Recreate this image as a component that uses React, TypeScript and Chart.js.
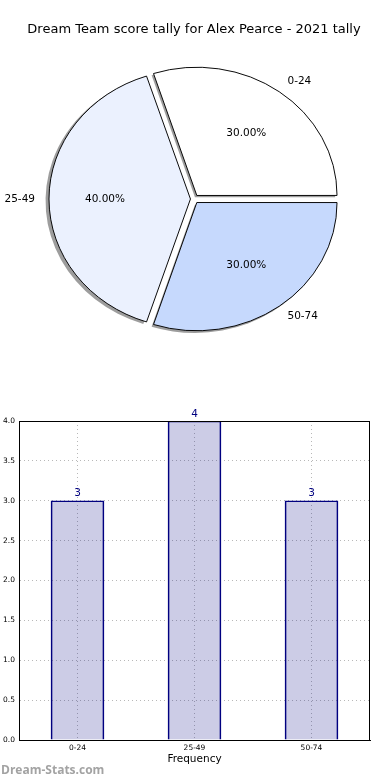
import React, { useEffect, useRef } from "react";
import { Chart, registerables } from "chart.js";

Chart.register(...registerables);

const FONT = '"DejaVu Sans", sans-serif';

const TITLE = "Dream Team score tally for Alex Pearce - 2021 tally";
const CATEGORIES = ["0-24", "25-49", "50-74"];
const COUNTS = [3, 4, 3];
const PIE_COLORS = ["#ffffff", "#ebf1fe", "#c6d9fd"];
const Y_MIN = 0;
const Y_MAX = 4;
const Y_STEP = 0.5;
const X_AXIS_TITLE = "Frequency";
const WATERMARK = "Dream-Stats.com";

const TOTAL = COUNTS.reduce((a, b) => a + b, 0);
const PIE_RADIUS = 140;
const SY = 128 / 140;
const EXPLODE_PX = 5;
const SHADOW_DX = -2;
const SHADOW_DY = 2;

function arcGeom(arc: any) {
  const p = arc.getProps(["x", "y", "startAngle", "endAngle", "outerRadius"], true);
  const circ = p.endAngle - p.startAngle;
  const off = (arc.options.offset || 0) / 4;
  const fix = 1 - Math.sin(Math.min(Math.PI, circ));
  const t = off * (1 + fix);
  const mid = (p.startAngle + p.endAngle) / 2;
  return {
    cx: p.x,
    cy: p.y,
    x: p.x + Math.cos(mid) * t,
    y: p.y + Math.sin(mid) * t,
    r: p.outerRadius + off * fix,
    R: p.outerRadius,
    startAngle: p.startAngle,
    endAngle: p.endAngle,
    mid,
  };
}

const pieDecor = {
  id: "pieDecor",
  beforeDatasetsDraw(chart: any) {
    const ctx = chart.ctx;
    const meta = chart.getDatasetMeta(0);
    const a0 = meta.data[0];
    const cx = a0.x;
    const cy = a0.y;
    ctx.save();
    ctx.translate(cx, cy);
    ctx.scale(1, SY);
    ctx.translate(-cx, -cy);
    meta.data.forEach((arc: any) => {
      const g = arcGeom(arc);
      const sx = g.x + SHADOW_DX;
      const sy = g.y + SHADOW_DY / SY;
      ctx.beginPath();
      ctx.moveTo(sx, sy);
      ctx.arc(sx, sy, g.r, g.startAngle, g.endAngle);
      ctx.closePath();
      ctx.fillStyle = "rgba(60,60,60,0.5)";
      ctx.fill();
    });
  },
  afterDatasetsDraw(chart: any) {
    const ctx = chart.ctx;
    ctx.restore();
    const meta = chart.getDatasetMeta(0);
    const labels = chart.data.labels;
    const values = chart.data.datasets[0].data;
    ctx.save();
    ctx.fillStyle = "#000";
    ctx.font = `10.5px ${FONT}`;
    ctx.textBaseline = "middle";
    meta.data.forEach((arc: any, i: number) => {
      const g = arcGeom(arc);
      const c = Math.cos(g.mid);
      const s = Math.sin(g.mid);
      const lx = g.x + c * 1.1 * g.R;
      const ly = g.cy + (g.y + s * 1.1 * g.R - g.cy) * SY;
      ctx.textAlign = c > 0 ? "left" : "right";
      ctx.fillText(String(labels[i]), lx, ly);
      const px = g.x + c * 0.6 * g.R;
      const py = g.cy + (g.y + s * 0.6 * g.R - g.cy) * SY;
      ctx.textAlign = "center";
      ctx.fillText(((values[i] / TOTAL) * 100).toFixed(2) + "%", px, py);
    });
    ctx.restore();
  },
};

const frame = {
  id: "frame",
  afterDraw(chart: any) {
    const { left, right, top, bottom } = chart.chartArea;
    const ctx = chart.ctx;
    ctx.save();
    ctx.strokeStyle = "#000";
    ctx.lineWidth = 1;
    ctx.beginPath();
    ctx.moveTo(Math.round(left), Math.round(top) + 0.5);
    ctx.lineTo(Math.round(right), Math.round(top) + 0.5);
    ctx.moveTo(Math.round(right) - 0.5, Math.round(top));
    ctx.lineTo(Math.round(right) - 0.5, Math.round(bottom));
    ctx.stroke();
    ctx.restore();
  },
};

const valueLabels = {
  id: "valueLabels",
  afterDatasetsDraw(chart: any) {
    const ctx = chart.ctx;
    const meta = chart.getDatasetMeta(0);
    const values = chart.data.datasets[0].data;
    ctx.save();
    ctx.fillStyle = "#000080";
    ctx.font = `10.5px ${FONT}`;
    ctx.textAlign = "center";
    ctx.textBaseline = "alphabetic";
    meta.data.forEach((bar: any, i: number) => {
      ctx.fillText(String(values[i]), bar.x, bar.y - 4.5);
    });
    ctx.restore();
  },
};

export default function App() {
  const pieRef = useRef<HTMLCanvasElement>(null);
  const barRef = useRef<HTMLCanvasElement>(null);

  useEffect(() => {
    Chart.defaults.font.family = FONT;
    const pieLabels = CATEGORIES.slice().reverse();
    const pieValues = COUNTS.slice().reverse();
    const pieColors = PIE_COLORS.slice().reverse();

    const pie = new Chart(pieRef.current!, {
      type: "pie",
      data: {
        labels: pieLabels,
        datasets: [
          {
            data: pieValues,
            backgroundColor: pieColors,
            borderColor: "#000",
            borderWidth: 1,
            clip: false,
            offset: (c: any) => {
              const v = c.dataset.data[c.dataIndex];
              const circ = (2 * Math.PI * v) / TOTAL;
              const fix = 1 - Math.sin(Math.min(Math.PI, circ));
              return (4 * EXPLODE_PX) / (1 + fix);
            },
          } as any,
        ],
      },
      options: {
        animation: false,
        responsive: false,
        maintainAspectRatio: false,
        rotation: 90,
        radius: PIE_RADIUS,
        layout: { padding: { left: 0, right: 2, top: 0, bottom: 39.6 } },
        plugins: {
          legend: { display: false },
          tooltip: { enabled: false },
          title: {
            display: true,
            text: TITLE,
            color: "#000",
            font: { family: FONT, size: 13, weight: "normal" },
            padding: { top: 22, bottom: 0 },
          },
        },
      } as any,
      plugins: [pieDecor],
    });

    const gridColor = "#b8b8b8";
    const bar = new Chart(barRef.current!, {
      type: "bar",
      data: {
        labels: CATEGORIES,
        datasets: [
          {
            data: COUNTS,
            backgroundColor: "rgba(0,0,128,0.2)",
            borderColor: "#000080",
            borderWidth: 1,
            barThickness: 53,
          },
        ],
      },
      options: {
        animation: false,
        responsive: false,
        maintainAspectRatio: false,
        layout: { padding: { left: 0, right: 20, top: 21, bottom: 0 } },
        plugins: { legend: { display: false }, tooltip: { enabled: false } },
        scales: {
          x: {
            grid: { offset: false, color: gridColor, lineWidth: 1, drawTicks: false },
            border: { display: true, color: "#000", width: 1, dash: [1, 3] },
            ticks: { color: "#000", font: { family: FONT, size: 7.5 }, padding: 4, maxRotation: 0 },
            title: {
              display: true,
              text: X_AXIS_TITLE,
              color: "#000",
              font: { family: FONT, size: 10.5 },
              padding: { top: 0, bottom: 14 },
            },
            afterFit: (s: any) => {
              s.height = 40;
            },
          },
          y: {
            min: Y_MIN,
            max: Y_MAX,
            grid: { color: gridColor, lineWidth: 1, drawTicks: false },
            border: { display: true, color: "#000", width: 1, dash: [1, 3] },
            ticks: {
              stepSize: Y_STEP,
              color: "#000",
              font: { family: FONT, size: 7.5 },
              padding: 4,
              callback: (v: any) => Number(v).toFixed(1),
            },
            afterFit: (s: any) => {
              s.width = 19;
            },
          },
        },
      } as any,
      plugins: [valueLabels, frame],
    });

    return () => {
      pie.destroy();
      bar.destroy();
    };
  }, []);

  return (
    <div
      style={{
        position: "absolute",
        left: 0,
        top: 0,
        width: 390,
        height: 780,
        background: "#fff",
        overflow: "hidden",
      }}
    >
      <canvas
        ref={pieRef}
        width={390}
        height={400}
        style={{ position: "absolute", left: 0, top: 0, width: 390, height: 400 }}
      />
      <canvas
        ref={barRef}
        width={390}
        height={380}
        style={{ position: "absolute", left: 0, top: 400, width: 390, height: 380 }}
      />
      <div
        style={{
          position: "absolute",
          left: 1,
          top: 761,
          font: `bold 12px "Open Sans", sans-serif`,
          color: "#a3a3a3",
          whiteSpace: "nowrap",
        }}
      >
        {WATERMARK}
      </div>
    </div>
  );
}
